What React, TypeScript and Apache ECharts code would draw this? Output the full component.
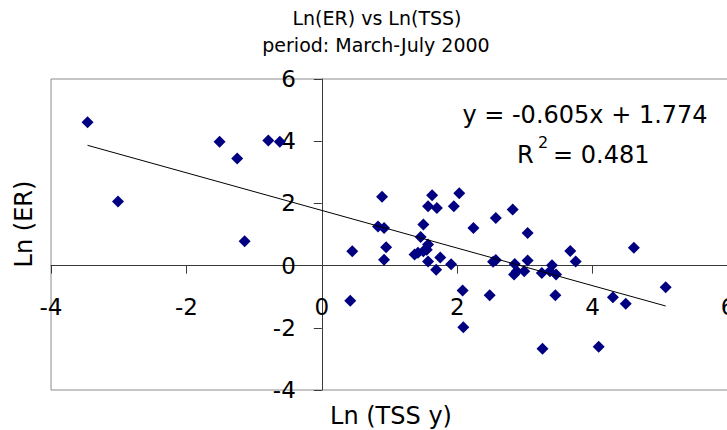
import React, { useEffect, useRef } from "react";
import * as echarts from "echarts";

const titleLine1 = "Ln(ER) vs Ln(TSS)";
const titleLine2 = "period: March-July 2000";
const xAxisName = "Ln (TSS y)";
const yAxisName = "Ln (ER)";

// Ln(TSS) values
const lnTss = [
  -3.46, -3.01, -1.51, -1.25, -1.14, -0.79, -0.62,
  0.42, 0.45, 0.89, 0.83, 0.92, 0.95, 0.92,
  1.63, 1.57, 1.7, 1.95, 2.03, 1.5, 1.46, 1.57, 1.55, 1.5, 1.42, 1.37, 1.75, 1.57, 1.69, 1.91,
  2.82, 2.57, 2.24, 3.04, 3.67, 3.75, 2.57, 2.53, 2.85, 3.04,
  2.88, 2.84, 2.99, 3.25, 3.4, 3.37, 3.46,
  2.08, 2.48, 3.45, 2.09, 3.26, 4.09, 4.3, 4.49, 5.08, 4.61,
];
// Ln(ER) values
const lnEr = [
  4.61, 2.06, 3.98, 3.44, 0.78, 4.02, 3.98,
  -1.13, 0.46, 2.21, 1.26, 1.21, 0.59, 0.19,
  2.26, 1.91, 1.85, 1.91, 2.33, 1.32, 0.92, 0.68, 0.51, 0.46, 0.41, 0.36, 0.26, 0.13, -0.13, 0.04,
  1.8, 1.53, 1.21, 1.05, 0.47, 0.13, 0.18, 0.12, 0.05, 0.16,
  -0.18, -0.29, -0.18, -0.24, 0.01, -0.18, -0.29,
  -0.8, -0.95, -0.95, -1.98, -2.67, -2.61, -1.02, -1.23, -0.7, 0.57,
];

const xMinAxis = -4;
const xMaxAxis = 6;
const yMinAxis = -4;
const yMaxAxis = 6;

const slope = -0.605;
const intercept = 1.774;
const rSquared = 0.481;

const FONT = "DejaVu Sans";

const GRID_LEFT = 51;
const GRID_TOP = 79;
const GRID_W = 677;
const GRID_H = 311;

export default function App() {
  const ref = useRef<HTMLDivElement>(null);
  useEffect(() => {
    if (!ref.current) return;
    const chart = echarts.init(ref.current, null, { renderer: "svg" });
    const points = lnTss.map((x, i) => [x, lnEr[i]]);
    const xMin = Math.min(...lnTss);
    const xMax = Math.max(...lnTss);
    const trend = [
      [xMin, slope * xMin + intercept],
      [xMax, slope * xMax + intercept],
    ];
    const eq = `y = ${slope.toFixed(3)}x + ${intercept.toFixed(3)}`;
    // axes cross at zero: shift each axis from the grid edge to the zero line
    const xAxisOffset = -(GRID_H * (0 - yMinAxis)) / (yMaxAxis - yMinAxis);
    const yAxisOffset = -(GRID_W * (0 - xMinAxis)) / (xMaxAxis - xMinAxis);
    chart.setOption({
      animation: false,
      grid: {
        left: GRID_LEFT,
        top: GRID_TOP,
        width: GRID_W,
        height: GRID_H,
        show: true,
        borderColor: "#8c8c8c",
        borderWidth: 1,
        backgroundColor: "transparent",
        outerBoundsMode: "none",
        containLabel: false,
      },
      xAxis: {
        type: "value",
        min: xMinAxis,
        max: xMaxAxis,
        interval: 2,
        position: "bottom",
        offset: xAxisOffset,
        axisLine: { onZero: false, lineStyle: { color: "#3a3a3a", width: 1 } },
        axisTick: { show: true, length: 8, lineStyle: { color: "#3a3a3a" } },
        axisLabel: {
          margin: 30,
          color: "#000",
          fontFamily: FONT,
          fontSize: 23,
          showMinLabel: true,
          showMaxLabel: true,
        },
        splitLine: { show: false },
      },
      yAxis: {
        type: "value",
        min: yMinAxis,
        max: yMaxAxis,
        interval: 2,
        position: "left",
        offset: yAxisOffset,
        axisLine: { onZero: false, lineStyle: { color: "#3a3a3a", width: 1 } },
        axisTick: { show: true, length: 8, lineStyle: { color: "#3a3a3a" } },
        axisLabel: {
          margin: 26,
          color: "#000",
          fontFamily: FONT,
          fontSize: 23,
          showMinLabel: true,
          showMaxLabel: true,
        },
        splitLine: { show: false },
      },
      series: [
        {
          type: "scatter",
          data: points,
          symbol: "diamond",
          symbolSize: 12,
          itemStyle: { color: "#000080", opacity: 1 },
          z: 3,
        },
        {
          type: "line",
          data: trend,
          symbol: "none",
          lineStyle: { color: "#000", width: 1 },
          z: 4,
        },
      ],
      graphic: [
        {
          type: "text",
          x: 377,
          y: 18,
          style: { text: titleLine1, fontFamily: FONT, fontSize: 19, fill: "#000", align: "center", verticalAlign: "middle" },
        },
        {
          type: "text",
          x: 376,
          y: 45,
          style: { text: titleLine2, fontFamily: FONT, fontSize: 19, fill: "#000", align: "center", verticalAlign: "middle" },
        },
        {
          type: "text",
          x: 391,
          y: 416,
          style: { text: xAxisName, fontFamily: FONT, fontSize: 24, fill: "#000", align: "center", verticalAlign: "middle" },
        },
        {
          type: "text",
          x: 24,
          y: 224,
          rotation: Math.PI / 2,
          style: { text: yAxisName, fontFamily: FONT, fontSize: 24, fill: "#000", align: "center", verticalAlign: "middle" },
        },
        {
          type: "text",
          x: 585,
          y: 115,
          style: { text: eq, fontFamily: FONT, fontSize: 24, fill: "#000", align: "center", verticalAlign: "middle" },
        },
        {
          type: "text",
          x: 517,
          y: 155,
          style: { text: "R", fontFamily: FONT, fontSize: 24, fill: "#000", align: "left", verticalAlign: "middle" },
        },
        {
          type: "text",
          x: 538,
          y: 142,
          style: { text: "2", fontFamily: FONT, fontSize: 16, fill: "#000", align: "left", verticalAlign: "middle" },
        },
        {
          type: "text",
          x: 553,
          y: 155,
          style: { text: `= ${rSquared.toFixed(3)}`, fontFamily: FONT, fontSize: 24, fill: "#000", align: "left", verticalAlign: "middle" },
        },
      ],
    });
    return () => chart.dispose();
  }, []);
  return (
    <div
      ref={ref}
      style={{ position: "absolute", left: 0, top: 0, width: 727, height: 430, background: "#fff" }}
    />
  );
}
